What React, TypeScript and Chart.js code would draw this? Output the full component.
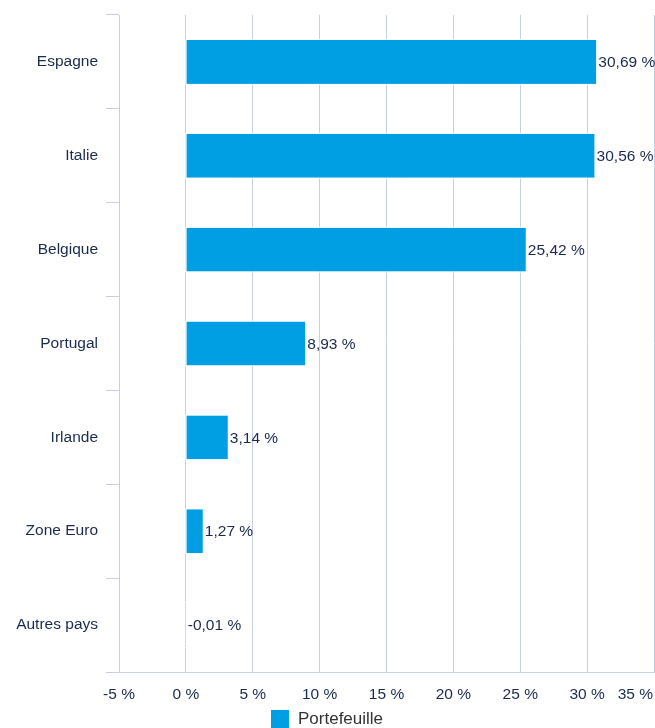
import React, { useEffect, useRef } from 'react';
import { Chart, registerables } from 'chart.js';

Chart.register(...registerables);

const categories = ['Espagne', 'Italie', 'Belgique', 'Portugal', 'Irlande', 'Zone Euro', 'Autres pays'];
const values = [30.69, 30.56, 25.42, 8.93, 3.14, 1.27, -0.01];
const xTickValues = [-5, 0, 5, 10, 15, 20, 25, 30, 35];
const seriesName = 'Portefeuille';

const BAR_COLOR = '#009FE3';
const GRID_COLOR = '#c6d0e2';
const TEXT_COLOR = '#1a2a50';
const FONT_FAMILY = '"Liberation Sans", Arial, Helvetica, sans-serif';

const fmt = (v: number) => v.toFixed(2).replace('.', ',') + ' %';

const overlayPlugin = {
  id: 'overlay',
  afterDatasetsDraw(chart: any) {
    const ctx = chart.ctx;
    const meta = chart.getDatasetMeta(0);
    ctx.save();
    // white bar borders (covers gridline under tiny bars)
    ctx.strokeStyle = '#ffffff';
    ctx.lineWidth = 1;
    meta.data.forEach((bar: any) => {
      const p = bar.getProps(['x', 'y', 'base', 'height'], true);
      const l = Math.min(p.x, p.base);
      const w = Math.abs(p.x - p.base);
      ctx.strokeRect(l - 0.5, p.y - p.height / 2 - 0.5, w + 1, p.height + 1);
    });
    // data labels
    ctx.fillStyle = TEXT_COLOR;
    ctx.font = `15.5px ${FONT_FAMILY}`;
    ctx.textAlign = 'left';
    ctx.textBaseline = 'middle';
    meta.data.forEach((bar: any, i: number) => {
      const p = bar.getProps(['x', 'y', 'base'], true);
      const x = Math.max(p.x, p.base) + 2;
      ctx.fillText(fmt(values[i]), x, p.y + 1);
    });
    ctx.restore();
  },
  afterDraw(chart: any) {
    const ctx = chart.ctx;
    const xScale = chart.scales.x;
    const W = chart.width;
    ctx.save();
    // x tick labels
    ctx.fillStyle = TEXT_COLOR;
    ctx.font = `15.5px ${FONT_FAMILY}`;
    ctx.textAlign = 'left';
    ctx.textBaseline = 'middle';
    xTickValues.forEach((v) => {
      const txt = `${v} %`;
      const w = ctx.measureText(txt).width;
      const cx = xScale.getPixelForValue(v);
      let left = cx - w / 2;
      if (left + w > W - 2) left = W - 2 - w;
      if (left < 2) left = 2;
      ctx.fillText(txt, left, chart.chartArea.bottom + 23);
    });
    // legend
    ctx.font = `17px ${FONT_FAMILY}`;
    const tw = ctx.measureText(seriesName).width;
    const box = 18;
    const gap = 9;
    const total = box + gap + tw;
    const startX = Math.round((W - total) / 2);
    const cy = 719;
    ctx.fillStyle = BAR_COLOR;
    ctx.fillRect(startX, cy - 9, box, box);
    ctx.fillStyle = '#333333';
    ctx.fillText(seriesName, startX + box + gap, cy);
    ctx.restore();
  },
};

export default function App() {
  const ref = useRef<HTMLCanvasElement | null>(null);

  useEffect(() => {
    document.body.style.margin = '0';
    const canvas = ref.current;
    if (!canvas) return;
    const chart = new Chart(canvas, {
      type: 'bar',
      data: {
        labels: categories,
        datasets: [
          {
            label: seriesName,
            data: values,
            backgroundColor: BAR_COLOR,
            borderWidth: 0,
            barPercentage: 0.468,
            categoryPercentage: 1,
          },
        ],
      },
      options: {
        indexAxis: 'y',
        responsive: false,
        animation: false,
        devicePixelRatio: 1,
        layout: { padding: { top: 15, right: 1, left: 0, bottom: 0 } },
        plugins: {
          legend: { display: false },
          tooltip: { enabled: false },
        },
        scales: {
          x: {
            type: 'linear',
            min: -5,
            max: 35,
            ticks: { display: false, stepSize: 5 },
            grid: { color: GRID_COLOR, lineWidth: 1, drawTicks: false },
            border: { display: true, color: GRID_COLOR, width: 1 },
            afterFit: (scale: any) => {
              scale.height = 56;
              scale.paddingLeft = 0;
              scale.paddingRight = 0;
            },
          },
          y: {
            type: 'category',
            grid: {
              offset: true,
              drawOnChartArea: false,
              drawTicks: true,
              tickLength: 13,
              color: GRID_COLOR,
              lineWidth: 1,
            },
            border: { display: true, color: GRID_COLOR, width: 1 },
            ticks: {
              color: TEXT_COLOR,
              font: { size: 15.5, family: FONT_FAMILY },
              padding: 8,
            },
            afterFit: (scale: any) => {
              scale.width = 119;
              scale.paddingTop = 0;
              scale.paddingBottom = 0;
            },
          },
        },
      },
      plugins: [overlayPlugin],
    } as any);
    return () => chart.destroy();
  }, []);

  return (
    <div style={{ width: 655, height: 728 }}>
      <canvas ref={ref} width={655} height={728} style={{ display: 'block', width: 655, height: 728 }} />
    </div>
  );
}
